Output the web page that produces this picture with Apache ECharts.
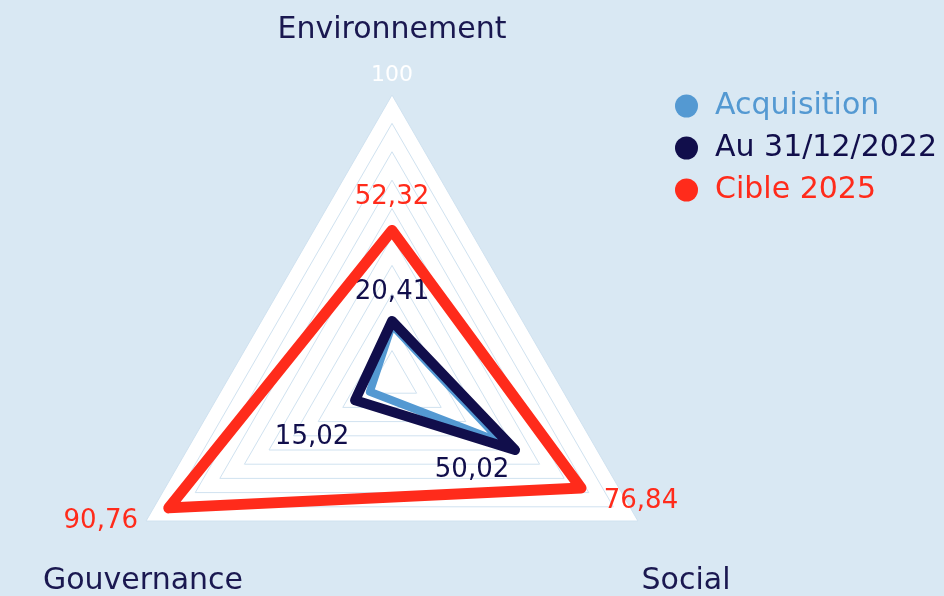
<!DOCTYPE html>
<html>
<head>
<meta charset="utf-8">
<script src="https://cdn.jsdelivr.net/npm/echarts@6/dist/echarts.min.js"></script>
<style>
  html, body { margin: 0; padding: 0; background: #d9e8f3; }
  #chart { width: 944px; height: 596px; }
</style>
</head>
<body>
<div id="chart"></div>
<script>
// axes, in radar order (top, bottom-left, bottom-right)
var indicators = ['Environnement', 'Gouvernance', 'Social'];
var axisMax = 100;

var seriesNames = ['Acquisition', 'Au 31/12/2022', 'Cible 2025'];
var acquisition = [19, 9, 45];
var au2022 = [20.41, 15.02, 50.02];
var cible2025 = [52.32, 90.76, 76.84];

var colors = ['#5499d2', '#110e4b', '#ff2b1b'];
var navy = '#1a1850';
var font = 'DejaVu Sans';

// where each value label sits relative to its vertex [dx, dy]
var labelShift = {
    'Au 31/12/2022': [[0, -29], [-43, 37], [-43, 20]],
    'Cible 2025': [[0, -33], [-68, 13], [60, 13]]
};

var chart = echarts.init(document.getElementById('chart'));
var CX = 392, CY = 379;

function fmt(v) {
    return v.toFixed(2).replace('.', ',');
}

function vertexIndex(rect) {
    var x = rect.x + rect.width / 2, y = rect.y + rect.height / 2;
    if (y < CY - 2) return 0;
    return x < CX ? 1 : 2;
}

function makeSeries(name, values, idx, width, withLabel) {
    return {
        name: name,
        type: 'radar',
        z: 2 + idx,
        symbol: 'circle',
        symbolSize: 1,
        itemStyle: { color: colors[idx] },
        lineStyle: { color: colors[idx], width: width, join: 'round', cap: 'round' },
        label: {
            show: withLabel,
            color: colors[idx],
            fontFamily: font,
            fontSize: 26,
            formatter: function (p) { return fmt(p.value); }
        },
        labelLayout: withLabel ? function (p) {
            var k = vertexIndex(p.rect);
            var s = labelShift[name][k];
            return {
                x: p.rect.x + p.rect.width / 2 + s[0],
                y: p.rect.y + p.rect.height / 2 + s[1],
                align: 'center',
                verticalAlign: 'middle'
            };
        } : null,
        emphasis: { disabled: true },
        silent: true,
        data: [{ value: values, name: name }]
    };
}

var option = {
    backgroundColor: '#d9e8f3',
    animation: false,
    legend: {
        orient: 'vertical',
        left: 670,
        top: 86,
        icon: 'circle',
        itemWidth: 23,
        itemHeight: 23,
        itemGap: 12,
        textStyle: { fontFamily: font, fontSize: 30, padding: [0, 0, 0, 12] },
        data: seriesNames.map(function (n, i) {
            return { name: n, textStyle: { color: colors[i] } };
        })
    },
    radar: {
        center: [CX, CY],
        radius: 284,
        startAngle: 90,
        splitNumber: 10,
        shape: 'polygon',
        axisNameGap: 0,
        axisName: {
            formatter: function (n) {
                return n === indicators[0] ? '{t|' + n + '}\n{v|' + axisMax + '}' : '';
            },
            rich: {
                t: { color: navy, fontFamily: font, fontSize: 30, lineHeight: 50 },
                v: { color: '#ffffff', fontFamily: font, fontSize: 22, lineHeight: 40 }
            }
        },
        axisLine: { show: false },
        axisTick: { show: false },
        axisLabel: { show: false },
        splitLine: { lineStyle: { color: '#d0e2f0', width: 1 } },
        splitArea: { areaStyle: { color: ['#ffffff'], opacity: 1 } },
        indicator: indicators.map(function (n) {
            return { name: n, min: 0, max: axisMax };
        })
    },
    graphic: [
        {
            type: 'text', x: 143, y: 581,
            style: { text: indicators[1], fill: navy, font: '30px "' + font + '"', align: 'center', verticalAlign: 'middle' }
        },
        {
            type: 'text', x: 686, y: 581,
            style: { text: indicators[2], fill: navy, font: '30px "' + font + '"', align: 'center', verticalAlign: 'middle' }
        }
    ],
    series: [
        makeSeries(seriesNames[0], acquisition, 0, 8, false),
        makeSeries(seriesNames[1], au2022, 1, 10, true),
        makeSeries(seriesNames[2], cible2025, 2, 11, true)
    ]
};

chart.setOption(option);
</script>
</body>
</html>
